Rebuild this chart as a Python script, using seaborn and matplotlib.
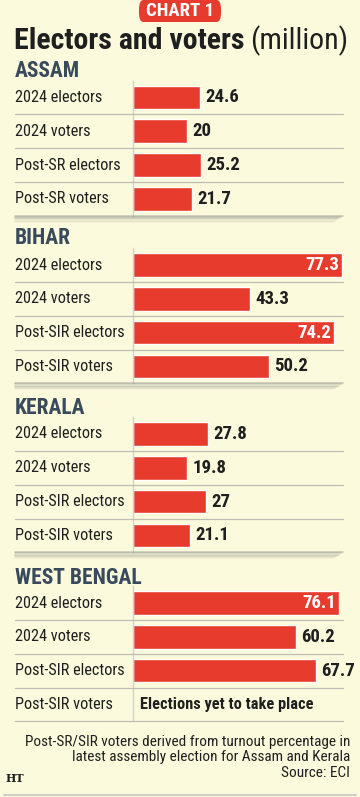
import matplotlib
matplotlib.use("Agg")
import matplotlib.pyplot as plt
import matplotlib.transforms as mtransforms
from matplotlib.lines import Line2D
from matplotlib.patches import FancyBboxPatch
from matplotlib import font_manager
import seaborn as sns
import pandas as pd

# Данные
assam_labels = ["2024 electors", "2024 voters", "Post-SR electors", "Post-SR voters"]
sir_labels = ["2024 electors", "2024 voters", "Post-SIR electors", "Post-SIR voters"]
assam_values = [24.6, 20, 25.2, 21.7]
bihar_values = [77.3, 43.3, 74.2, 50.2]
kerala_values = [27.8, 19.8, 27, 21.1]
bengal_values = [76.1, 60.2, 67.7, None]
states = ["ASSAM", "BIHAR", "KERALA", "WEST BENGAL"]

W, H = 360, 797
BG = "#fcfadc"
RED = "#e63b2d"
INK = "#1f1f1f"
HEAD = "#384a5b"

sns.set_theme(style="white")
names = {f.name for f in font_manager.fontManager.ttflist}
FONT = next((n for n in ["Roboto Condensed", "Liberation Sans Narrow", "Roboto"] if n in names), "DejaVu Sans")
plt.rcParams["font.family"] = [FONT, "DejaVu Sans"]

fig = plt.figure(figsize=(W / 100, H / 100), dpi=100, facecolor=BG)


def fx(x):
    return x / W


def fy(y):
    return 1 - y / H


# Заголовок
fig.patches.append(FancyBboxPatch((fx(139), fy(22)), fx(82), 22 / H,
                                  boxstyle="round,pad=0,rounding_size=0.012",
                                  transform=fig.transFigure, fc=RED, ec="none"))
fig.text(fx(180), fy(11), "CHART 1", color="white", fontsize=13.5, fontweight="bold",
         ha="center", va="center")
t1 = fig.text(fx(14), fy(41), "Electors and voters", color=INK, fontsize=21.5,
              fontweight="bold", va="center")
r = fig.canvas.get_renderer()
bb = t1.get_window_extent(r)
fig.text(bb.x1 / W + fx(6), fy(41), "(million)", color=INK, fontsize=21.5, va="center")

sections = [
    (states[0], assam_labels, assam_values, 71, 97.5),
    (states[1], sir_labels, bihar_values, 238, 265),
    (states[2], sir_labels, kerala_values, 408, 434),
    (states[3], sir_labels, bengal_values, 578, 603),
]
step = 33.8
xmax = 77.3 * (350 - 133) / (342 - 133)

for name, labels, values, head_y, c0 in sections:
    fig.text(fx(15), fy(head_y), name, color=HEAD, fontsize=15.5, fontweight="bold", va="center")
    top = c0 - step / 2
    ax = fig.add_axes([fx(133), fy(top + 4 * step), fx(350 - 133), 4 * step / H])
    ax.set_facecolor("none")
    df = pd.DataFrame({"label": labels, "value": values}).dropna()
    sns.barplot(data=df, x="value", y="label", order=labels, color=RED, width=0.7,
                errorbar=None, ax=ax, orient="h", saturation=1)
    ax.set_xlim(0, xmax)
    ax.set_ylim(3.5, -0.5)
    ax.set_xlabel("")
    ax.set_ylabel("")
    ax.set_xticks([])
    ax.set_yticks([])
    for s in ["top", "right", "bottom"]:
        ax.spines[s].set_visible(False)
    ax.spines["left"].set_color("#d2d2c6")
    ax.spines["left"].set_linewidth(1)

    tr = mtransforms.blended_transform_factory(fig.transFigure, ax.transData)
    for i, (lab, v) in enumerate(zip(labels, values)):
        ax.text(fx(15), i, lab, transform=tr, color=INK, fontsize=11.7, va="center", ha="left")
        if v is None:
            ax.text(2.5, i, "Elections yet to take place", color=INK, fontsize=11.8,
                    fontweight="bold", va="center", ha="left")
            continue
        txt = f"{v:g}"
        if v > 70:
            ax.annotate(txt, (v, i), xytext=(-2, 0), textcoords="offset points",
                        color="white", fontsize=13.5, fontweight="bold", va="center", ha="right")
        else:
            ax.annotate(txt, (v, i), xytext=(4, 0), textcoords="offset points",
                        color=INK, fontsize=13.5, fontweight="bold", va="center", ha="left")
    # разделители строк
    last = 4 if name == "WEST BENGAL" else 3
    for k in range(last):
        fig.lines.append(Line2D([fx(15), fx(343)], [k + 0.5, k + 0.5], transform=tr,
                                color="#bdbdb4", lw=0.9))
    if name != "WEST BENGAL":
        # тень под секцией
        for j in range(6):
            fig.lines.append(Line2D([fx(15), fx(343 - j * 2)], [3.5 + j * 0.035, 3.5 + j * 0.035],
                                    transform=tr, color="#9a9a92", lw=1.2, alpha=0.5 - j * 0.08))

# Примечание
note = ["Post-SR/SIR voters derived from turnout percentage in",
        "latest assembly election for Assam and Kerala",
        "Source: ECI"]
for k, line in enumerate(note):
    fig.text(fx(350), fy(742 + k * 15.3), line, color=INK, fontsize=11.0, ha="right", va="center")
fig.text(fx(6), fy(779), "HT", color=INK, fontsize=8, fontweight="bold",
         family="DejaVu Serif", va="center")
fig.lines.append(Line2D([fx(4), fx(356)], [fy(795), fy(795)], transform=fig.transFigure,
                        color="#cfcfc4", lw=1.5))

fig.savefig("out.png", dpi=100, facecolor=BG)
